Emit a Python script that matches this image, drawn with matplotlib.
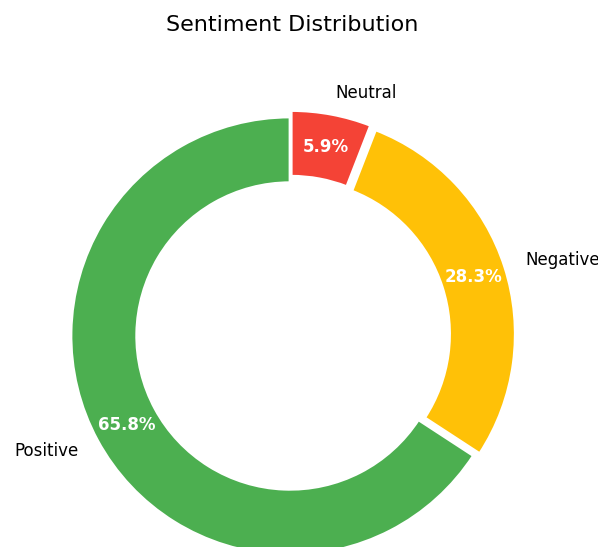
import matplotlib
matplotlib.use("Agg")
import matplotlib.pyplot as plt

# data
labels = ["Positive", "Negative", "Neutral"]
shares = [65.8, 28.3, 5.9]
colors = ["#4CAF50", "#FFC107", "#F44336"]
explode = [0, 0.03, 0.03]

fig = plt.figure(figsize=(5.98, 5.47), dpi=100)
ax = fig.add_axes([0, 0, 1, 1])

wedges, texts, autotexts = ax.pie(
    shares, labels=labels, colors=colors, explode=explode,
    startangle=90, autopct="%1.1f%%", pctdistance=0.85, labeldistance=1.1,
    wedgeprops=dict(width=0.3, edgecolor="white", linewidth=2),
    textprops=dict(fontsize=12),
)
for t in autotexts:
    t.set_color("white")
    t.set_fontweight("bold")
    t.set_fontsize(12)

# radius of 1 = ~219 px, centre at (290, 336) px from top-left
r = 219.0
ax.set_xlim(-290 / r, (598 - 290) / r)
ax.set_ylim(-(547 - 336) / r, 336 / r)
ax.set_aspect("equal")
ax.axis("off")

fig.text(292 / 598, 1 - 25 / 547, "Sentiment Distribution", fontsize=16,
         ha="center", va="center")

fig.savefig("out.png", dpi=100)
